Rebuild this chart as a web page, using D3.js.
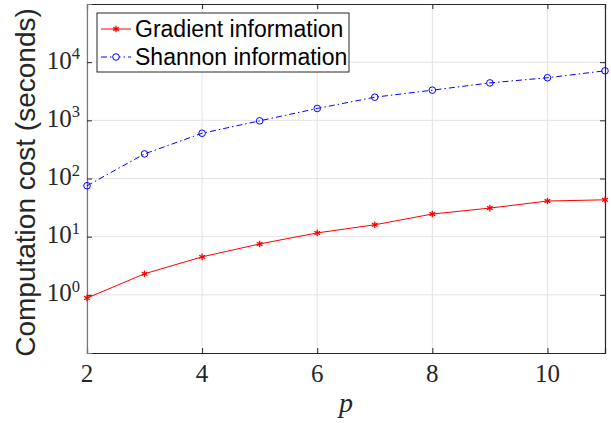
<!DOCTYPE html>
<html>
<head>
<meta charset="utf-8">
<script src="https://cdn.jsdelivr.net/npm/d3@7"></script>
<style>
body { margin: 0; background: #fff; }
</style>
</head>
<body>
<div id="chart"></div>
<script>
var width = 611;
var height = 423;

// data
var pValues = [2, 3, 4, 5, 6, 7, 8, 9, 10, 11];
var gradientCost = [0.88, 2.3, 4.5, 7.5, 11.6, 16, 24.5, 31, 41, 43];
var shannonCost = [75, 265, 600, 980, 1600, 2500, 3300, 4400, 5400, 7100];
var xTicks = [2, 4, 6, 8, 10];
var yTicks = [1, 10, 100, 1000, 10000];
var seriesNames = ["Gradient information", "Shannon information"];

var margin = {left: 87, top: 4, right: 6, bottom: 70};
var plotW = width - margin.left - margin.right;
var plotH = height - margin.top - margin.bottom;

var svg = d3.select("#chart").append("svg")
    .attr("width", width)
    .attr("height", height);

var x = d3.scaleLinear().domain([2, 11]).range([0, plotW]);
var y = d3.scaleLog().domain([0.1, 1e5]).range([plotH, 0]);

var g = svg.append("g").attr("transform", "translate(" + margin.left + "," + margin.top + ")");

// grid
g.selectAll("line.gx").data(xTicks).enter().append("line")
    .attr("x1", d => x(d)).attr("x2", d => x(d))
    .attr("y1", 0).attr("y2", plotH)
    .attr("stroke", "#e3e3e3").attr("stroke-width", 1);
g.selectAll("line.gy").data(yTicks).enter().append("line")
    .attr("y1", d => y(d)).attr("y2", d => y(d))
    .attr("x1", 0).attr("x2", plotW)
    .attr("stroke", "#e3e3e3").attr("stroke-width", 1);

// axes (ticks inward, labels drawn separately)
var axisColor = "#262626";
var xAxis = g.append("g").attr("transform", "translate(0," + plotH + ")")
    .call(d3.axisBottom(x).tickValues(xTicks).tickSize(-5).tickFormat(""));
var xAxisTop = g.append("g")
    .call(d3.axisTop(x).tickValues(xTicks).tickSize(-5).tickFormat(""));
var yAxis = g.append("g")
    .call(d3.axisLeft(y).tickValues(yTicks).tickSize(-5).tickFormat(""));
var yAxisRight = g.append("g").attr("transform", "translate(" + plotW + ",0)")
    .call(d3.axisRight(y).tickValues(yTicks).tickSize(-5).tickFormat(""));
[xAxis, xAxisTop, yAxis, yAxisRight].forEach(function(a){
    a.select(".domain").attr("stroke", axisColor).attr("stroke-width", 1.2);
    a.selectAll(".tick line").attr("stroke", axisColor);
});
yAxis.select(".domain").attr("stroke", "#777");

// tick labels
var serif = "'Liberation Serif', 'DejaVu Serif', serif";
g.selectAll("text.xl").data(xTicks).enter().append("text")
    .attr("x", d => x(d)).attr("y", 377.5)
    .attr("text-anchor", "middle")
    .attr("font-family", serif).attr("font-size", 25).attr("fill", "#262626")
    .text(d => d);

var yl = g.selectAll("text.yl").data(yTicks).enter().append("text")
    .attr("x", -7).attr("y", d => y(d) + 6.6)
    .attr("text-anchor", "end")
    .attr("font-family", serif).attr("font-size", 25).attr("fill", "#262626");
yl.append("tspan").text("10");
yl.append("tspan").attr("dy", -9.5).attr("font-size", 16.5)
    .text(d => Math.round(Math.log10(d)));

// axis titles
svg.append("text")
    .attr("transform", "translate(35,182.5) rotate(-90)")
    .attr("text-anchor", "middle")
    .attr("font-family", "'Liberation Sans', Arial, sans-serif")
    .attr("font-size", 28).attr("fill", "#262626")
    .text("Computation cost (seconds)");
svg.append("text")
    .attr("x", margin.left + plotW / 2).attr("y", 412)
    .attr("text-anchor", "middle")
    .attr("font-family", serif).attr("font-style", "italic")
    .attr("font-size", 28).attr("fill", "#262626")
    .text("p");

// lines
var line = d3.line().x((d, i) => x(pValues[i])).y(d => y(d));

g.append("path").datum(gradientCost)
    .attr("d", line).attr("fill", "none")
    .attr("stroke", "#ff0000").attr("stroke-width", 1);
g.append("path").datum(shannonCost)
    .attr("d", line).attr("fill", "none")
    .attr("stroke", "#0000ff").attr("stroke-width", 1)
    .attr("stroke-dasharray", "6,3,1.5,3");

// markers
var star = d3.symbol().type(d3.symbolAsterisk).size(30);
g.selectAll("path.star").data(gradientCost).enter().append("path")
    .attr("transform", (d, i) => "translate(" + x(pValues[i]) + "," + y(d) + ")")
    .attr("d", star)
    .attr("fill", "none").attr("stroke", "#ff0000").attr("stroke-width", 1.3);
g.selectAll("circle.sh").data(shannonCost).enter().append("circle")
    .attr("cx", (d, i) => x(pValues[i])).attr("cy", d => y(d))
    .attr("r", 3.3)
    .attr("fill", "none").attr("stroke", "#0000ff").attr("stroke-width", 1);

// legend
var lg = svg.append("g").attr("transform", "translate(97,13)");
lg.append("rect").attr("width", 252).attr("height", 59)
    .attr("fill", "#fff").attr("stroke", axisColor).attr("stroke-width", 1);
var legendColors = ["#ff0000", "#0000ff"];
seriesNames.forEach(function(name, i){
    var cy = 16 + i * 28;
    lg.append("line").attr("x1", 4).attr("x2", 34).attr("y1", cy).attr("y2", cy)
        .attr("stroke", legendColors[i]).attr("stroke-width", 1)
        .attr("stroke-dasharray", i === 1 ? "6,3,1.5,3" : null);
    if (i === 0) {
        lg.append("path").attr("transform", "translate(19," + cy + ")")
            .attr("d", star).attr("fill", "none")
            .attr("stroke", legendColors[i]).attr("stroke-width", 1.3);
    } else {
        lg.append("circle").attr("cx", 19).attr("cy", cy).attr("r", 3.3)
            .attr("fill", "#fff").attr("stroke", legendColors[i]);
    }
    lg.append("text").attr("x", 38).attr("y", cy + 8)
        .attr("font-family", "'Liberation Sans', Arial, sans-serif")
        .attr("font-size", 23).attr("fill", "#000")
        .text(name);
});
</script>
</body>
</html>
